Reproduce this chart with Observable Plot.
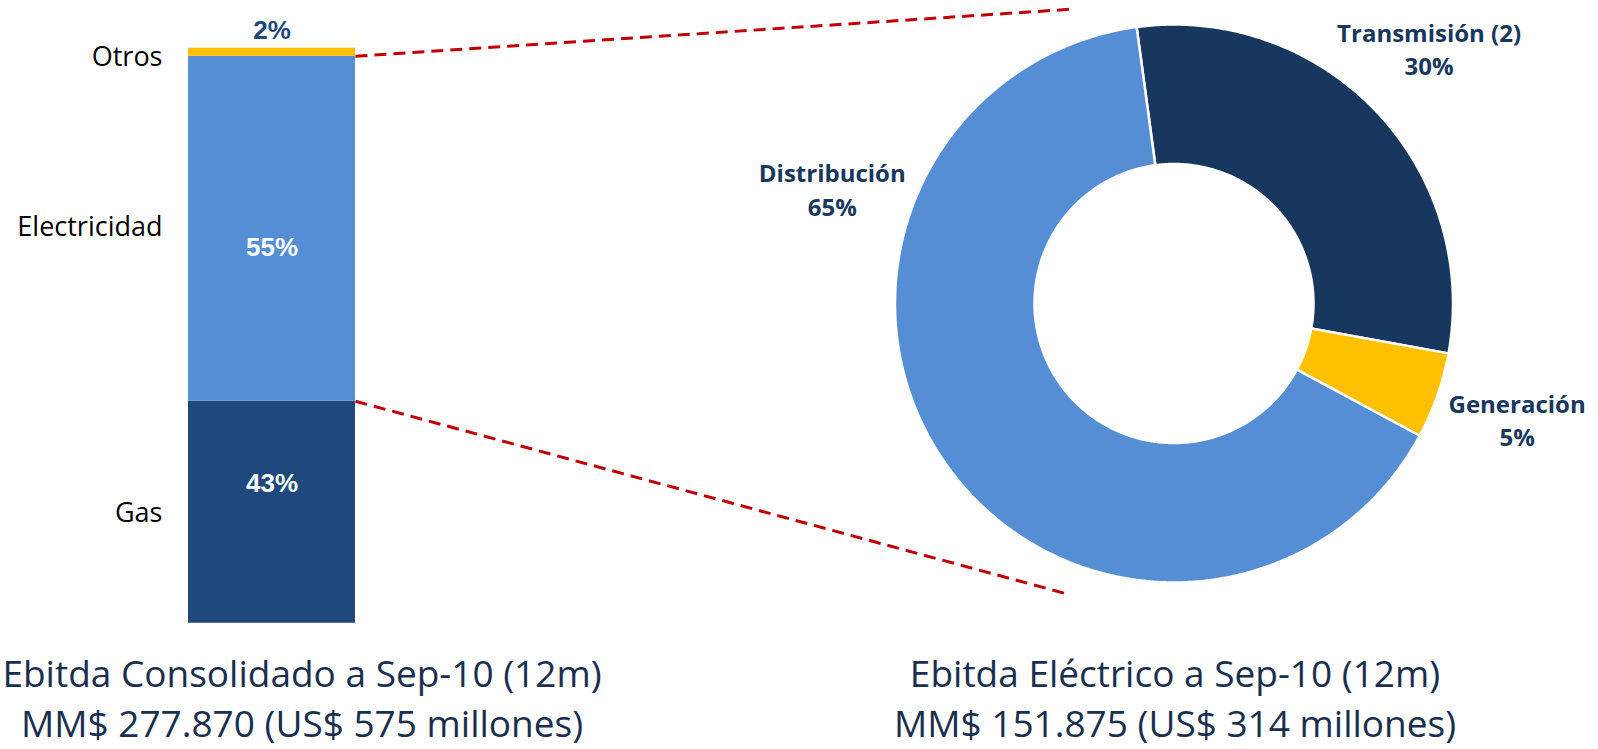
<!DOCTYPE html>
<html>
<head>
<meta charset="utf-8">
<script src="https://cdn.jsdelivr.net/npm/d3@7"></script>
<script src="https://cdn.jsdelivr.net/npm/@observablehq/plot@0.6"></script>
<style>
  html, body { margin: 0; padding: 0; background: #fff; overflow: hidden; }
  #wrap { position: relative; width: 1598px; height: 749px; }
  #wrap svg { position: absolute; left: 0; top: 0; }
  .cap { position: absolute; width: 900px; text-align: center; font-family: "Open Sans"; font-size: 37px;
         line-height: 36px; height: 36px; color: #1a2e4f; white-space: nowrap; }
</style>
</head>
<body>
<div id="wrap"></div>
<script>
// ---------- data ----------
const barCategories = ["Gas", "Electricidad", "Otros"];
const barValues = [43, 55, 2];
const barLabels = ["43%", "55%", "2%"];

const donutCategories = ["Transmisión (2)", "Generación", "Distribución"];
const donutValues = [30, 5, 65];

const captionLeft = ["Ebitda Consolidado a Sep-10 (12m)", "MM$ 277.870 (US$ 575 millones)"];
const captionRight = ["Ebitda Eléctrico a Sep-10 (12m)", "MM$ 151.875 (US$ 314 millones)"];

// ---------- layout ----------
const W = 1598, H = 640;
const barColors = ["#1F497D", "#558ED5", "#FFC000"];
const donutColors = ["#17375E", "#FFC000", "#558ED5"];
const pctDy = {Gas: -52.5, Electricidad: 19.2, Otros: -19.6};
const catDy = {Gas: -22.5, Electricidad: -1.8, Otros: 7.4};
const labelAngle = {"Transmisión (2)": 44.8, "Generación": 108.5, "Distribución": 288.7};
const labelR = 1.295;
const innerR = 0.5;
const startDeg = -7.7;

// ---------- bar ----------
const cum = d3.cumsum(barValues);
const barRows = barCategories.map((c, i) => ({
  cat: c, value: barValues[i], label: barLabels[i], mid: cum[i] - barValues[i] / 2
}));
// zoom connectors: from the top of Electricidad and the top of Gas toward the donut
const connectors = [
  {y1: cum[1], x2: 5.275, y2: 105.5},
  {y1: cum[0], x2: 5.27, y2: 12.2}
];

const barMarks = [
  Plot.rectY(barRows, {x1: 0, x2: 1, y: "value", fill: "cat", clip: true}),
  Plot.link(connectors, {x1: 1, y1: "y1", x2: "x2", y2: "y2", stroke: "#C00000",
    strokeWidth: 3, strokeDasharray: "12,7"})
];
barRows.forEach(r => {
  barMarks.push(Plot.text([r], {x: 0.5, y: "mid", text: "label", dy: pctDy[r.cat],
    fontFamily: "Liberation Sans", fontWeight: "bold", fontSize: 26,
    fill: r.cat === "Otros" ? "#1F497D" : "white"}));
  barMarks.push(Plot.text([r], {x: 0, y: "mid", text: "cat", dy: catDy[r.cat], dx: -26,
    textAnchor: "end", fontFamily: "Open Sans", fontSize: 27, fill: "#000"}));
});

const barPlot = Plot.plot({
  width: W, height: H,
  marginLeft: 188, marginRight: W - 355, marginTop: 47.7, marginBottom: H - 622.7,
  x: {domain: [0, 1], axis: null},
  y: {domain: [7.6, 99.3], axis: null},
  color: {domain: barCategories, range: barColors},
  style: {background: "transparent", overflow: "visible"},
  marks: barMarks
});

// ---------- donut ----------
const pie = d3.pie().sort(null)
  .startAngle(startDeg * Math.PI / 180)
  .endAngle((360 + startDeg) * Math.PI / 180);
const arcs = pie(donutValues);
const ringPts = [];
arcs.forEach((a, i) => {
  const n = Math.max(2, Math.ceil((a.endAngle - a.startAngle) / (Math.PI / 360)));
  for (let k = 0; k <= n; k++) {
    const t = a.startAngle + (a.endAngle - a.startAngle) * k / n;
    ringPts.push({slice: donutCategories[i],
      x1: innerR * Math.sin(t), y1: innerR * Math.cos(t),
      x2: Math.sin(t), y2: Math.cos(t)});
  }
});
const donutRows = donutCategories.map((c, i) => ({
  cat: c, text: `${c}\n${donutValues[i]}%`, ang: labelAngle[c] * Math.PI / 180
}));

const donutPlot = Plot.plot({
  width: W, height: H,
  marginLeft: 895, marginRight: W - 1453, marginTop: 24.5, marginBottom: H - 582.5,
  x: {domain: [-1, 1], axis: null},
  y: {domain: [-1, 1], axis: null},
  color: {domain: donutCategories, range: donutColors},
  style: {background: "transparent", overflow: "visible"},
  marks: [
    Plot.area(ringPts, {x1: "x1", y1: "y1", x2: "x2", y2: "y2", z: "slice", fill: "slice",
      stroke: "white", strokeWidth: 2.5, curve: "linear"}),
    Plot.text(donutRows, {x: d => labelR * Math.sin(d.ang), y: d => labelR * Math.cos(d.ang),
      text: "text", fontFamily: "Open Sans", fontWeight: "bold", fontSize: 24, lineHeight: 1.4,
      fill: "#17375E"})
  ]
});

const wrap = document.getElementById("wrap");
wrap.appendChild(barPlot);
wrap.appendChild(donutPlot);

function caption(lines, cx, tops) {
  lines.forEach((l, i) => {
    const d = document.createElement("div");
    d.className = "cap";
    d.style.left = (cx - 450) + "px";
    d.style.top = tops[i] + "px";
    d.textContent = l;
    wrap.appendChild(d);
  });
}
caption(captionLeft, 302, [654.5, 705]);
caption(captionRight, 1175, [654.5, 705]);
</script>
</body>
</html>
